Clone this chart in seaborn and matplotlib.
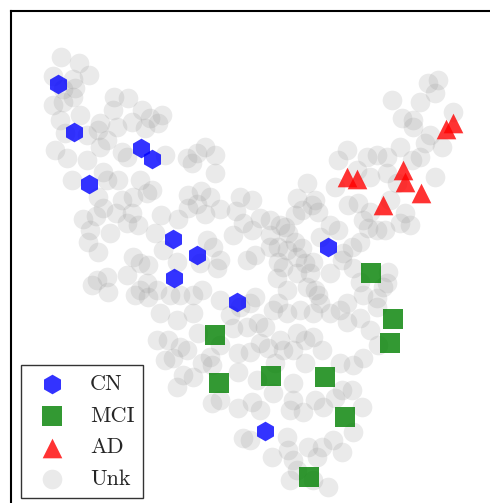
import matplotlib
matplotlib.use("Agg")
import matplotlib.pyplot as plt
import seaborn as sns
import numpy as np
import pandas as pd

# ---- data (embedding coordinates) ----
cn_x = [58, 74, 89, 141, 152, 173, 197, 174, 237, 328, 265]
cn_y = [84, 132, 184, 148, 159, 239, 255, 278, 302, 247, 431]

mci_x = [371, 393, 390, 215, 219, 271, 325, 345, 309]
mci_y = [273, 319, 343, 335, 383, 376, 377, 417, 477]

ad_x = [347, 357, 403, 405, 421, 383, 446, 453]
ad_y = [177, 179, 170, 182, 193, 205, 129, 123]

unk_pts = [
    # upper-left arm
    (61,57),(79,63),(89,75),(53,76),(73,79),(75,88),(63,89),(73,97),(53,105),(63,102),
    (114,97),(128,98),(113,110),(142,110),(150,118),(162,115),(158,123),(132,122),(145,128),
    (117,127),(100,123),(80,115),(60,120),(65,133),(87,135),(98,130),(55,150),(67,158),
    (87,160),(100,147),(107,140),(122,152),(127,157),(165,155),(103,172),(187,158),
    (197,153),(205,147),(215,155),(192,163),(215,173),
    (72,180),(107,180),(118,180),(140,180),(147,193),(152,190),(188,195),(201,191),(98,197),
    (122,200),(133,197),(103,208),(83,219),(96,216),(116,213),(132,213),(161,215),(178,219),
    (197,204),(210,197),(220,209),(240,197),(236,211),(188,208),(205,214),(252,200),
    # middle-left
    (127,223),(110,233),(90,230),(88,242),(98,252),(138,225),(155,233),(163,250),(133,257),
    (140,263),(148,265),(127,275),(107,277),(97,280),(92,285),(108,292),(140,290),(147,283),
    (157,290),(135,295),(148,297),(177,262),(207,240),(213,247),(220,260),(217,268),(200,263),
    (202,290),(193,295),(180,295),(170,295),(220,300),(250,303),(255,297),(247,260),(255,255),
    (243,223),(233,235),(252,230),(260,218),
    # middle-right
    (348,205),(358,203),(363,220),(370,212),(390,200),(405,213),(410,225),(400,223),(385,230),
    (377,230),(368,228),(360,242),(352,247),(343,253),(338,230),(330,225),(318,212),(312,205),
    (302,210),(297,198),(315,200),(320,237),(302,248),(305,263),(313,262),(330,273),(342,260),
    (353,268),(360,282),(363,295),(377,298),(383,287),(387,283),(388,272),(347,303),(320,303),
    (315,290),(310,273),(297,257),(287,250),(295,242),(288,233),(295,215),(285,227),(280,225),
    (270,220),(270,235),(278,247),(270,247),(278,262),(283,267),(277,278),(297,273),(307,287),
    (318,295),(287,290),(278,303),(377,307),(378,345),
    # upper-right arm
    (438,80),(428,83),(435,93),(392,100),(420,102),(453,112),(402,118),(413,120),(413,127),
    (430,135),(400,147),(425,143),(442,147),(420,157),(412,160),(435,177),(387,157),(377,155),
    (367,157),(347,150),(338,160),(357,170),(370,177),(387,173),(397,183),(335,187),(307,183),
    # lower part
    (160,313),(177,320),(193,313),(198,333),(157,340),(168,340),(180,347),(165,360),(173,358),
    (187,350),(210,357),(202,363),(183,375),(193,377),(177,387),(212,365),(220,345),(230,315),
    (233,328),(247,327),(258,323),(265,327),(238,353),(250,352),(260,343),(268,348),(280,340),
    (283,350),(293,350),(305,340),(297,333),(313,337),(322,350),(305,363),(275,363),(257,380),
    (238,372),(273,393),(293,383),(293,400),(290,410),(303,412),(315,400),(323,407),(335,398),
    (342,390),(340,363),(353,365),(352,390),(362,407),(363,358),(370,330),(360,318),(347,322),
    (330,313),(340,310),(313,313),(300,310),(287,313),(273,310),(240,307),(353,432),(342,452),
    (333,440),(322,447),(317,457),(308,447),(293,460),(297,470),(290,480),(313,480),(328,487),
    (287,437),(288,450),(272,457),(250,440),(243,438),(212,403),(220,400),(238,408),(252,402),
    (260,410),
]
unk_x = [p[0] for p in unk_pts]
unk_y = [p[1] for p in unk_pts]

# ---- figure ----
sns.set_style("white")
plt.rcParams["font.family"] = ["cmr10", "DejaVu Serif"]
plt.rcParams["mathtext.fontset"] = "cm"
plt.rcParams["axes.unicode_minus"] = False

W, H = 490, 503
fig = plt.figure(figsize=(W / 100, H / 100), dpi=100)
L, T, R, B = 11, 11, 508, 508
ax = fig.add_axes([L / W, (H - B) / H, (R - L) / W, (B - T) / H])

S = 200
unk_df = pd.DataFrame({"x": unk_x, "y": unk_y})
sns.scatterplot(data=unk_df, x="x", y="y", ax=ax, s=S, color="#8c8c8c", alpha=0.18,
                marker="o", linewidth=0, label="Unk")
sns.scatterplot(x=cn_x, y=cn_y, ax=ax, s=S, color="blue", alpha=0.8, marker="h",
                linewidth=0, label="CN")
sns.scatterplot(x=mci_x, y=mci_y, ax=ax, s=S, color="green", alpha=0.8, marker="s",
                linewidth=0, label="MCI")
sns.scatterplot(x=ad_x, y=ad_y, ax=ax, s=S, color="red", alpha=0.8, marker="^",
                linewidth=0, label="AD")

ax.set_xlim(L, R)
ax.set_ylim(B, T)
ax.set_xticks([])
ax.set_yticks([])
ax.set_xlabel("")
ax.set_ylabel("")
for sp in ax.spines.values():
    sp.set_color("black")
    sp.set_linewidth(1.5)
    sp.set_visible(True)

handles, labels = ax.get_legend_handles_labels()
order = ["CN", "MCI", "AD", "Unk"]
hmap = dict(zip(labels, handles))
leg = ax.legend([hmap[k] for k in order], order, loc="lower left", fontsize=16,
                frameon=True, fancybox=False, edgecolor="0.2", framealpha=1,
                borderaxespad=0.45, handletextpad=0.7, labelspacing=0.55)
leg.get_frame().set_linewidth(1.0)

fig.savefig("out.png", dpi=100)
